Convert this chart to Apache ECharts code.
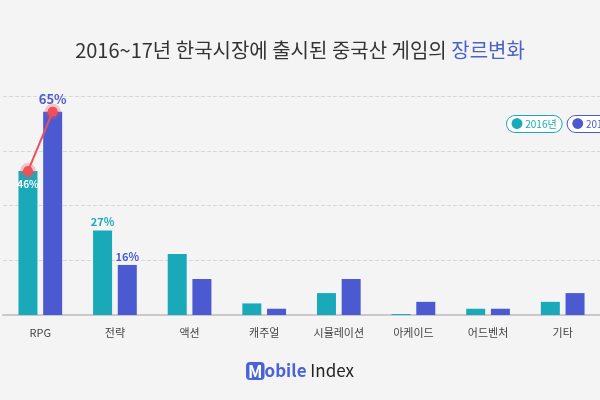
<!DOCTYPE html>
<html><head><meta charset="utf-8">
<script src="https://cdn.jsdelivr.net/npm/echarts@6/dist/echarts.min.js"></script>
<style>html,body{margin:0;padding:0;background:#f4f4f4}#c{width:600px;height:400px}</style>
</head><body><div id="c"></div>
<script>
const categories = ['RPG','전략','액션','캐주얼','시뮬레이션','아케이드','어드벤처','기타'];
const seriesNames = ['2016년','2017년'];
const values2016 = [46, 27, 19.5, 3.7, 7, 0.3, 2, 4.2];
const values2017 = [65, 16, 11.5, 2, 11.5, 4.2, 2, 7];
const labeled2016 = {0: 'inside', 1: 'top'};
const labeled2017 = {0: 'top', 1: 'top'};
const TEAL = '#19a9b9', BLUE = '#4b5ad1', RED = '#f0505a';
const FONT = '"Noto Sans CJK KR", "Noto Sans", sans-serif';

function makeData(vals, labeled, color) {
  return vals.map((v, i) => {
    const pos = labeled[i];
    if (!pos) return v;
    if (pos === 'inside') {
      return {value: v, label: {show: true, position: 'insideTop', distance: 8, color: '#fff', fontSize: 10, fontWeight: 'bold', formatter: '{c}%'}};
    }
    return {value: v, label: {show: true, position: 'top', distance: i === 0 ? 6 : 3, color: color, fontSize: i === 0 ? 13 : 11, fontWeight: 'bold', formatter: '{c}%'}};
  });
}
function pill(color) {
  return {fontSize: 10, color: color, padding: [2, 5, 2, 4], borderColor: color, borderWidth: 1,
          borderRadius: 9, backgroundColor: '#fff',
          rich: {d16: {color: TEAL, fontSize: 12}, d17: {color: BLUE, fontSize: 12}}};
}

const chart = echarts.init(document.getElementById('c'));
const BW = 19, GAP = 0.3;
chart.setOption({
  backgroundColor: '#f4f4f4',
  textStyle: {fontFamily: FONT},
  title: {
    text: '{a|2016~17년 한국시장에 출시된 중국산 게임의 }{b|장르변화}',
    left: 'center', top: 35,
    textStyle: {fontWeight: 'normal', rich: {
      a: {fontSize: 20, color: '#333', fontWeight: 'normal', fontFamily: FONT},
      b: {fontSize: 20, color: '#4a63c9', fontWeight: 'normal', fontFamily: FONT}
    }}
  },
  legend: {
    data: [{name: seriesNames[0], textStyle: pill(TEAL)}, {name: seriesNames[1], textStyle: pill(BLUE)}],
    orient: 'horizontal', left: 502, top: 115, width: 300, padding: 0,
    itemWidth: 0, itemHeight: 0, itemGap: 0,
    formatter: function (name) { return (name === '2016년' ? '{d16|●}' : '{d17|●}') + ' ' + name; }
  },
  grid: {left: 3, width: 625, top: 96, bottom: 85},
  xAxis: {
    type: 'category', data: categories,
    axisLine: {lineStyle: {color: '#c9c9c9', width: 2}},
    axisTick: {show: false},
    axisLabel: {color: '#444', fontSize: 11, margin: 12, fontFamily: FONT}
  },
  yAxis: {
    type: 'value', min: 0, max: 70, interval: 17.5,
    axisLabel: {show: false}, axisLine: {show: false}, axisTick: {show: false},
    splitLine: {lineStyle: {color: '#d8d8d8', type: 'dashed', width: 1}}
  },
  series: [
    {name: '2016년', type: 'bar', barWidth: BW, barGap: '30%', itemStyle: {color: TEAL},
     data: makeData(values2016, labeled2016, TEAL)},
    {name: '2017년', type: 'bar', barWidth: BW, barGap: '30%', itemStyle: {color: BLUE},
     data: makeData(values2017, labeled2017, BLUE)},
    {type: 'custom', silent: true, z: 10,
     data: [[0, values2016[0], values2017[0]]],
     renderItem: function (params, api) {
       const c = api.coord([api.value(0), 0]);
       const off = (BW + BW * GAP) / 2;
       const x1 = c[0] - off, x2 = c[0] + off;
       const y1 = api.coord([api.value(0), api.value(1)])[1];
       const y2 = api.coord([api.value(0), api.value(2)])[1];
       const dot = (x, y) => [
         {type: 'circle', shape: {cx: x, cy: y, r: 8}, style: {fill: 'rgba(240,80,90,0.3)'}},
         {type: 'circle', shape: {cx: x, cy: y, r: 5}, style: {fill: RED}}
       ];
       return {type: 'group', children: [
         {type: 'line', shape: {x1: x1, y1: y1, x2: x2, y2: y2}, style: {stroke: RED, lineWidth: 2}}
       ].concat(dot(x1, y1), dot(x2, y2))};
     }}
  ],
  graphic: [{
    type: 'text', left: 'center', top: 362,
    style: {
      text: '{m|M}{b|obile}{i| Index}',
      rich: {
        m: {fontSize: 17, fontWeight: 'bold', fill: '#fff', backgroundColor: '#4a63d8', borderRadius: 4, padding: [1, 2, 0, 2], fontFamily: FONT},
        b: {fontSize: 17, fontWeight: 'bold', fill: '#4a63d8', fontFamily: FONT},
        i: {fontSize: 17, fill: '#222', fontFamily: FONT}
      }
    }
  }]
});
</script></body></html>
